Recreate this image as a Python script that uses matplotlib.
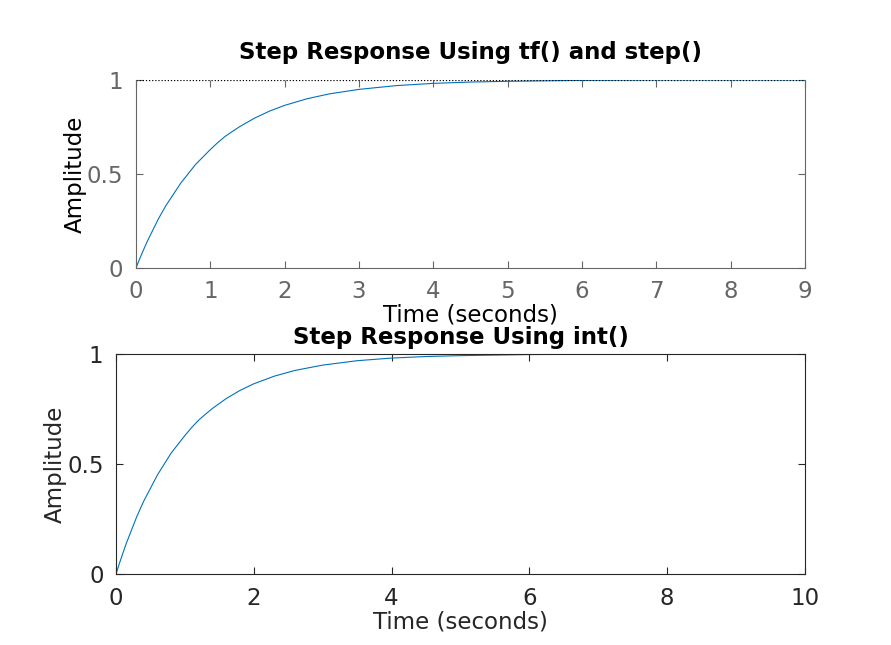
import matplotlib
matplotlib.use("Agg")
from matplotlib import pyplot as plt

# values
t_top = [0, 0.05, 0.1, 0.15, 0.2, 0.3, 0.4, 0.5, 0.6, 0.7, 0.8, 0.9, 1.0, 1.1, 1.2, 1.3, 1.4, 1.6, 1.8,
         2.0, 2.3, 2.6, 3.0, 3.5, 4, 4.5, 5, 6, 7, 8, 9]
y_top = [0, 0.049, 0.095, 0.14, 0.18, 0.26, 0.33, 0.39, 0.45, 0.50, 0.55, 0.59, 0.63, 0.667, 0.70, 0.727,
         0.753, 0.798, 0.835, 0.865, 0.90, 0.926, 0.95, 0.97, 0.982, 0.989, 0.993, 0.998, 1, 1, 1]
t_bot = [0, 0.05, 0.1, 0.15, 0.2, 0.3, 0.4, 0.5, 0.6, 0.7, 0.8, 0.9, 1.0, 1.1, 1.2, 1.3, 1.4, 1.6, 1.8,
         2.0, 2.3, 2.6, 3.0, 3.5, 4, 4.5, 5, 6, 7, 8, 9, 10]
y_bot = [0, 0.049, 0.095, 0.14, 0.18, 0.26, 0.33, 0.39, 0.45, 0.50, 0.55, 0.59, 0.63, 0.667, 0.70, 0.727,
         0.753, 0.798, 0.835, 0.865, 0.90, 0.926, 0.95, 0.97, 0.982, 0.989, 0.993, 0.998, 1, 1, 1, 1]
steady = 1.0

blue = "#0072BD"
gray = "#666666"
dark = "#262626"
fs = 16.5

plt.rcParams['font.family'] = ['DejaVu Sans']
fig = plt.figure(figsize=(8.91, 6.45), dpi=100)

# upper plot, step() style
ax1 = fig.add_axes([0.1526, 0.5845, 0.7509, 0.2915])
ax1.plot(t_top, y_top, color=blue, lw=0.8)
ax1.axhline(steady, color="black", lw=0.9, ls=(0, (1, 1.5)))
ax1.set_xlim(0, 9)
ax1.set_ylim(0, 1)
ax1.set_xticks(range(0, 10))
ax1.set_yticks([0, 0.5, 1])
ax1.set_yticklabels(["0", "0.5", "1"])
for s in ["left", "right", "bottom"]:
    ax1.spines[s].set_color(gray)
ax1.spines["top"].set_visible(False)
ax1.tick_params(direction="in", top=True, right=True, colors=gray, labelsize=fs, length=5, pad=9)
ax1.set_xlabel("Time (seconds)", fontsize=fs, color="black", labelpad=0)
ax1.set_ylabel("Amplitude", fontsize=fs, color="black", labelpad=0)
ax1.set_title("Step Response Using tf() and step()", fontsize=fs, fontweight="bold", pad=15)

# lower plot, integration result
ax2 = fig.add_axes([0.1302, 0.110, 0.7733, 0.341])
ax2.plot(t_bot, y_bot, color=blue, lw=0.8)
ax2.set_xlim(0, 10)
ax2.set_ylim(0, 1)
ax2.set_xticks([0, 2, 4, 6, 8, 10])
ax2.set_yticks([0, 0.5, 1])
ax2.set_yticklabels(["0", "0.5", "1"])
for s in ax2.spines.values():
    s.set_color(dark)
ax2.tick_params(direction="in", top=True, right=True, colors=dark, labelsize=fs, length=5, pad=9)
ax2.set_xlabel("Time (seconds)", fontsize=fs, color=dark, labelpad=1)
ax2.set_ylabel("Amplitude", fontsize=fs, color=dark, labelpad=0)
ax2.set_title("Step Response Using int()", fontsize=fs, fontweight="bold", pad=7)

fig.savefig("out.png", dpi=100)
